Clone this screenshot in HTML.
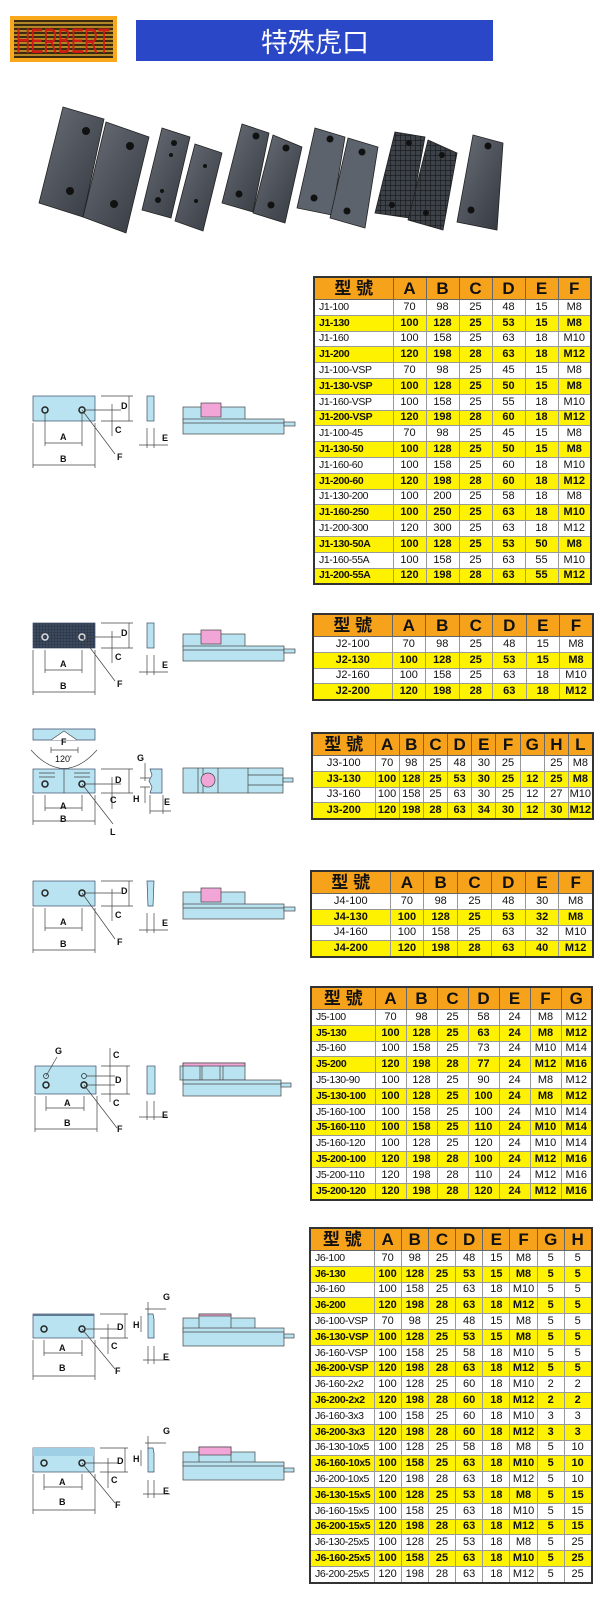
<!DOCTYPE html>
<html><head><meta charset="utf-8">
<style>
html,body{margin:0;padding:0;background:#fff;}
body{width:610px;height:1616px;position:relative;overflow:hidden;font-family:"Liberation Sans","Noto Sans CJK TC",sans-serif;}
.t{position:absolute;border-collapse:collapse;border:2px solid #333;font-size:11px;color:#111;table-layout:fixed;}
.t td{border:1px solid #999;height:14.8px;padding:0;text-align:center;line-height:13px;white-space:nowrap;overflow:hidden;}
.t tr.h td{background:#f7a21b;height:21px;line-height:20px;font-size:17px;font-weight:bold;border:1px solid #666;}
.t tr.y td{background:#fff200;font-weight:bold;}
.t td.m{text-align:left;padding-left:4px;letter-spacing:-0.4px;font-size:10.5px;}
svg text{font-family:"Liberation Sans",sans-serif;font-weight:bold;font-size:9px;fill:#111;}
</style></head><body>

<svg width="610" height="1616" style="position:absolute;left:0;top:0">
<defs>
<linearGradient id="st" x1="0" y1="0" x2="1" y2="1"><stop offset="0" stop-color="#6b7079"/><stop offset="1" stop-color="#33373e"/></linearGradient>
<pattern id="gr" width="5" height="5" patternUnits="userSpaceOnUse"><rect width="5" height="5" fill="#3d4148"/><path d="M0 0H5M0 0V5" stroke="#15171a" stroke-width="1.2"/></pattern>
<pattern id="gr2" width="3" height="3" patternUnits="userSpaceOnUse"><rect width="3" height="3" fill="#3c4a60"/><path d="M0 0H3M0 0V3" stroke="#222a38" stroke-width="0.8"/></pattern>
</defs>
<rect x="10" y="16" width="107" height="46" fill="#f8a81a"/>
<rect x="14" y="20" width="99" height="38" fill="#3a2a10"/>
<g stroke="#d9a52c" stroke-width="1.4">
<path d="M14 23H113M14 27H113M14 31H113M14 35H113M14 39H113M14 43H113M14 47H113M14 51H113M14 55H113"/>
</g>
<text x="63" y="53" text-anchor="middle" style="font-size:35px;font-weight:normal;fill:#d01a14;font-family:'Liberation Sans Narrow','Liberation Sans',sans-serif" textLength="94" lengthAdjust="spacingAndGlyphs">HERBERT</text>
<rect x="136" y="20" width="357" height="41" fill="#2a47c8"/>
<text x="315" y="52" text-anchor="middle" style="font-size:27px;font-weight:normal;fill:#fff;font-family:'Noto Sans CJK TC',sans-serif">特殊虎口</text>

<g stroke="#222" stroke-width="0.8">
<polygon points="63,107 104,119 83,217 39,203" fill="url(#st)"/>
<polygon points="106,122 149,137 126,233 83,217" fill="url(#st)"/>
<polygon points="162,128 190,137 171,218 142,210" fill="url(#st)"/>
<polygon points="195,144 222,153 203,231 175,221" fill="url(#st)"/>
<polygon points="242,124 269,133 253,212 222,203" fill="url(#st)"/>
<polygon points="273,135 302,147 285,223 253,213" fill="url(#st)"/>
<polygon points="315,128 345,137 332,215 297,208" fill="#5d636c"/>
<polygon points="348,138 378,147 365,228 330,218" fill="#5d636c"/>
<polygon points="395,132 425,137 410,218 375,213" fill="url(#gr)"/>
<polygon points="428,140 457,153 443,230 408,220" fill="url(#gr)"/>
<polygon points="473,135 503,143 497,230 457,222" fill="url(#st)"/>
</g>
<g fill="#111">
<circle cx="86" cy="131" r="4"/><circle cx="70" cy="191" r="4"/>
<circle cx="130" cy="146" r="4"/><circle cx="114" cy="204" r="4"/>
<circle cx="174" cy="143" r="3"/><circle cx="171" cy="155" r="2"/><circle cx="162" cy="191" r="2"/><circle cx="158" cy="200" r="3"/>
<circle cx="205" cy="166" r="2"/><circle cx="196" cy="201" r="2"/>
<circle cx="256" cy="136" r="3.5"/><circle cx="239" cy="194" r="3.5"/>
<circle cx="286" cy="148" r="3.5"/><circle cx="271" cy="205" r="3.5"/>
<circle cx="330" cy="139" r="3.5"/><circle cx="314" cy="198" r="3.5"/>
<circle cx="362" cy="152" r="3.5"/><circle cx="347" cy="211" r="3.5"/>
<circle cx="409" cy="143" r="3"/><circle cx="392" cy="205" r="3"/>
<circle cx="442" cy="155" r="3"/><circle cx="426" cy="213" r="3"/>
<circle cx="488" cy="146" r="3.5"/><circle cx="471" cy="210" r="3.5"/>
</g>

<g transform="translate(33,396)" stroke="#444" stroke-width="0.7" fill="none">
<rect x="0" y="0" width="62" height="25" fill="#b9e3f0" stroke="#3a4a6a"/>
<circle cx="12" cy="14" r="3" stroke="#222" stroke-width="1.5"/><circle cx="49" cy="14" r="3" stroke="#222" stroke-width="1.5"/>
<path d="M12 17V50M49 17V50M12 47H49M0 27V72M62 27V72M0 69H62M68 0H100M68 25H100M96 0V25M52 14H88M79 8V40M49 14L82 58M114 32V52M121 32V52M106 49H135"/>
<rect x="114" y="0" width="7" height="25" fill="#b9e3f0" stroke="#3a4a6a"/>
<rect x="150" y="11" width="62" height="14" fill="#b9e3f0"/>
<rect x="150" y="23" width="101" height="15" fill="#b9e3f0"/>
<path d="M150 27H251"/>
<rect x="168" y="7" width="20" height="14" fill="#f2a6d8"/>
<rect x="251" y="26" width="11" height="4" fill="#b9e3f0"/>
<text x="27" y="44" stroke="none">A</text><text x="27" y="66" stroke="none">B</text>
<text x="88" y="13" stroke="none">D</text><text x="82" y="37" stroke="none">C</text>
<text x="84" y="64" stroke="none">F</text><text x="129" y="45" stroke="none">E</text>
</g>
<g transform="translate(33,623)" stroke="#444" stroke-width="0.7" fill="none">
<rect x="0" y="0" width="62" height="25" fill="url(#gr2)" stroke="#3a4a6a"/>
<circle cx="12" cy="14" r="3" stroke="#ddd" stroke-width="1.5"/><circle cx="49" cy="14" r="3" stroke="#ddd" stroke-width="1.5"/>
<path d="M12 27V50M49 27V50M12 47H49M0 27V72M62 27V72M0 69H62M68 0H100M68 25H100M96 0V25M52 14H88M79 8V40M49 14L82 58M114 32V52M121 32V52M106 49H135"/>
<rect x="114" y="0" width="7" height="25" fill="#b9e3f0" stroke="#3a4a6a"/>
<rect x="150" y="11" width="62" height="14" fill="#b9e3f0"/>
<rect x="150" y="23" width="101" height="15" fill="#b9e3f0"/>
<path d="M150 27H251"/>
<rect x="168" y="7" width="20" height="14" fill="#f2a6d8"/>
<rect x="251" y="26" width="11" height="4" fill="#b9e3f0"/>
<text x="27" y="44" stroke="none">A</text><text x="27" y="66" stroke="none">B</text>
<text x="88" y="13" stroke="none">D</text><text x="82" y="37" stroke="none">C</text>
<text x="84" y="64" stroke="none">F</text><text x="129" y="45" stroke="none">E</text>
</g>
<g transform="translate(33,769)" stroke="#444" stroke-width="0.7" fill="none">
<path d="M0 -40H62V-29H0Z" fill="#b9e3f0" stroke="#3a4a6a"/>
<path d="M18 -29L31 -38L44 -29" fill="#fff"/>
<path d="M-2 -19Q31 18 64 -19"/>
<path d="M18 -19H45M18 -22V-16M45 -22V-16"/>
<text x="28" y="-24" stroke="none">F</text>
<text x="22" y="-7" stroke="none" style="font-weight:normal">120'</text>
<rect x="0" y="0" width="62" height="24" fill="#b9e3f0" stroke="#3a4a6a"/>
<path d="M31 0V24M6 4H22M6 8H22M41 4H57M41 8H57"/>
<circle cx="12" cy="15" r="3" stroke="#222" stroke-width="1.5"/><circle cx="49" cy="15" r="3" stroke="#222" stroke-width="1.5"/>
<path d="M12 26V42M49 26V42M12 39H49M0 26V56M62 26V56M0 52H62M68 0H100M68 24H100M96 0V24M52 15H88M79 8V40M49 15L80 55"/>
<path d="M117 0H129V24H117L119 18L116 12L119 6Z" fill="#b9e3f0" stroke="#3a4a6a"/>
<path d="M112 -6V12M107 9H117M107 18H117M112 18V34M117 26V45M130 26V45M117 42H138"/>
<text x="104" y="-8" stroke="none">G</text><text x="100" y="33" stroke="none">H</text>
<text x="131" y="36" stroke="none">E</text>
<rect x="150" y="-1" width="100" height="25" fill="#b9e3f0"/>
<path d="M165 -1V24M170 -1V24M185 -1V24M215 -1V24M215 6H250M215 16H250"/>
<circle cx="175" cy="11" r="7" fill="#f2a6d8"/>
<rect x="250" y="9" width="10" height="4" fill="#b9e3f0"/>
<text x="27" y="40" stroke="none">A</text><text x="27" y="53" stroke="none">B</text>
<text x="82" y="14" stroke="none">D</text><text x="77" y="34" stroke="none">C</text>
<text x="77" y="66" stroke="none">L</text>
</g>
<g transform="translate(33,881)" stroke="#444" stroke-width="0.7" fill="none">
<rect x="0" y="0" width="62" height="25" fill="#b9e3f0" stroke="#3a4a6a"/>
<circle cx="12" cy="12" r="3" stroke="#222" stroke-width="1.5"/><circle cx="49" cy="12" r="3" stroke="#222" stroke-width="1.5"/>
<path d="M12 27V50M49 27V50M12 47H49M0 27V72M62 27V72M0 69H62M68 0H100M68 25H100M96 0V25M52 12H88M79 8V40M49 12L82 58M114 32V52M121 32V52M106 49H135"/>
<path d="M114 0H121L120 25H115Z" fill="#b9e3f0" stroke="#3a4a6a"/>
<rect x="150" y="11" width="62" height="14" fill="#b9e3f0"/>
<rect x="150" y="23" width="101" height="15" fill="#b9e3f0"/>
<path d="M150 27H251"/>
<rect x="168" y="7" width="20" height="14" fill="#f2a6d8"/>
<rect x="251" y="26" width="11" height="4" fill="#b9e3f0"/>
<text x="27" y="44" stroke="none">A</text><text x="27" y="66" stroke="none">B</text>
<text x="88" y="13" stroke="none">D</text><text x="82" y="37" stroke="none">C</text>
<text x="84" y="64" stroke="none">F</text><text x="129" y="45" stroke="none">E</text>
</g>
<g transform="translate(35,1066)" stroke="#444" stroke-width="0.7" fill="none">
<rect x="0" y="0" width="61" height="28" fill="#b9e3f0" stroke="#3a4a6a"/>
<circle cx="11" cy="10" r="2.5" stroke="#222"/><circle cx="49" cy="10" r="2.5" stroke="#222"/>
<circle cx="11" cy="19" r="3" stroke="#222" stroke-width="1.5"/><circle cx="49" cy="19" r="3" stroke="#222" stroke-width="1.5"/>
<path d="M11 10L22 -9M11 30V45M49 30V45M11 42H49M0 30V66M62 30V66M0 63H62M66 0H95M66 28H95M92 0V28M52 10H80M52 19H80M75 -18V36M112 35V54M119 35V54M104 51H133"/>
<path d="M49 19L82 62"/>
<rect x="112" y="0" width="8" height="28" fill="#b9e3f0" stroke="#3a4a6a"/>
<rect x="145" y="0" width="10" height="14" fill="#b9e3f0"/>
<rect x="148" y="-3" width="62" height="17" fill="#b9e3f0"/>
<path d="M165 -1V14M167 -1V14M185 -1V14M188 -1V14"/>
<rect x="148" y="-3" width="62" height="3" fill="#f2a6d8"/>
<rect x="148" y="14" width="98" height="16" fill="#b9e3f0"/>
<path d="M148 18H246"/>
<rect x="246" y="17" width="10" height="4" fill="#b9e3f0"/>
<text x="20" y="-12" stroke="none">G</text>
<text x="29" y="40" stroke="none">A</text><text x="29" y="60" stroke="none">B</text>
<text x="80" y="17" stroke="none">D</text><text x="78" y="-8" stroke="none">C</text><text x="78" y="40" stroke="none">C</text>
<text x="82" y="66" stroke="none">F</text><text x="127" y="52" stroke="none">E</text>
</g>
<g transform="translate(33,1314)" stroke="#444" stroke-width="0.7" fill="none">
<rect x="0" y="0" width="61" height="24" fill="#b9e3f0" stroke="#3a4a6a"/>
<rect x="0" y="0" width="61" height="2" fill="#5d7a90" stroke="none"/>
<circle cx="11" cy="15" r="3" stroke="#222" stroke-width="1.5"/><circle cx="49" cy="15" r="3" stroke="#222" stroke-width="1.5"/>
<path d="M11 26V42M49 26V42M11 39H49M0 26V66M62 26V66M0 62H62M67 0H95M67 24H95M92 0V24M52 15H86M75 10V40M49 15L82 55M115 -12V2M112 -5H133M108 2V18"/>
<path d="M115 0H120L121 5V24H115Z" fill="#b9e3f0" stroke="#3a4a6a"/>
<path d="M115 32V50M121 32V50M110 46H137"/>
<rect x="150" y="4" width="72" height="14" fill="#b9e3f0"/>
<rect x="166" y="0" width="32" height="18" fill="#b9e3f0"/>
<rect x="166" y="0" width="32" height="2" fill="#f2a6d8"/>
<rect x="150" y="14" width="101" height="18" fill="#b9e3f0"/>
<path d="M150 18H251"/>
<rect x="251" y="20" width="10" height="4" fill="#b9e3f0"/>
<text x="130" y="-14" stroke="none">G</text><text x="100" y="14" stroke="none">H</text>
<text x="26" y="37" stroke="none">A</text><text x="26" y="57" stroke="none">B</text>
<text x="84" y="16" stroke="none">D</text><text x="78" y="35" stroke="none">C</text>
<text x="82" y="60" stroke="none">F</text><text x="130" y="46" stroke="none">E</text>
</g>
<g transform="translate(33,1448)" stroke="#444" stroke-width="0.7" fill="none">
<rect x="0" y="0" width="61" height="24" fill="#b9e3f0" stroke="#3a4a6a"/>
<rect x="0" y="0" width="61" height="8" fill="#9fcfe4" stroke="none"/>
<circle cx="11" cy="15" r="3" stroke="#222" stroke-width="1.5"/><circle cx="49" cy="15" r="3" stroke="#222" stroke-width="1.5"/>
<path d="M11 26V42M49 26V42M11 39H49M0 26V66M62 26V66M0 62H62M67 0H95M67 24H95M92 0V24M52 15H86M75 10V40M49 15L82 55M115 -12V2M112 -5H133M108 2V18"/>
<path d="M115 0H120L121 5V24H115Z" fill="#b9e3f0" stroke="#3a4a6a"/>
<path d="M115 32V50M121 32V50M110 46H137"/>
<rect x="150" y="4" width="72" height="14" fill="#b9e3f0"/>
<rect x="166" y="-1" width="32" height="19" fill="#b9e3f0"/>
<rect x="166" y="-1" width="32" height="8" fill="#f2a6d8"/>
<rect x="150" y="14" width="101" height="18" fill="#b9e3f0"/>
<path d="M150 18H251"/>
<rect x="251" y="20" width="10" height="4" fill="#b9e3f0"/>
<text x="130" y="-14" stroke="none">G</text><text x="100" y="14" stroke="none">H</text>
<text x="26" y="37" stroke="none">A</text><text x="26" y="57" stroke="none">B</text>
<text x="84" y="16" stroke="none">D</text><text x="78" y="35" stroke="none">C</text>
<text x="82" y="60" stroke="none">F</text><text x="130" y="46" stroke="none">E</text>
</g>
</svg>

<table class="t" style="left:313px;top:276px;width:279px">
<colgroup><col style="width:79px"><col span="6" style="width:33px"></colgroup>
<tr class="h"><td>型 號</td><td>A</td><td>B</td><td>C</td><td>D</td><td>E</td><td>F</td></tr>
<tr><td class="m">J1-100</td><td>70</td><td>98</td><td>25</td><td>48</td><td>15</td><td>M8</td></tr>
<tr class="y"><td class="m">J1-130</td><td>100</td><td>128</td><td>25</td><td>53</td><td>15</td><td>M8</td></tr>
<tr><td class="m">J1-160</td><td>100</td><td>158</td><td>25</td><td>63</td><td>18</td><td>M10</td></tr>
<tr class="y"><td class="m">J1-200</td><td>120</td><td>198</td><td>28</td><td>63</td><td>18</td><td>M12</td></tr>
<tr><td class="m">J1-100-VSP</td><td>70</td><td>98</td><td>25</td><td>45</td><td>15</td><td>M8</td></tr>
<tr class="y"><td class="m">J1-130-VSP</td><td>100</td><td>128</td><td>25</td><td>50</td><td>15</td><td>M8</td></tr>
<tr><td class="m">J1-160-VSP</td><td>100</td><td>158</td><td>25</td><td>55</td><td>18</td><td>M10</td></tr>
<tr class="y"><td class="m">J1-200-VSP</td><td>120</td><td>198</td><td>28</td><td>60</td><td>18</td><td>M12</td></tr>
<tr><td class="m">J1-100-45</td><td>70</td><td>98</td><td>25</td><td>45</td><td>15</td><td>M8</td></tr>
<tr class="y"><td class="m">J1-130-50</td><td>100</td><td>128</td><td>25</td><td>50</td><td>15</td><td>M8</td></tr>
<tr><td class="m">J1-160-60</td><td>100</td><td>158</td><td>25</td><td>60</td><td>18</td><td>M10</td></tr>
<tr class="y"><td class="m">J1-200-60</td><td>120</td><td>198</td><td>28</td><td>60</td><td>18</td><td>M12</td></tr>
<tr><td class="m">J1-130-200</td><td>100</td><td>200</td><td>25</td><td>58</td><td>18</td><td>M8</td></tr>
<tr class="y"><td class="m">J1-160-250</td><td>100</td><td>250</td><td>25</td><td>63</td><td>18</td><td>M10</td></tr>
<tr><td class="m">J1-200-300</td><td>120</td><td>300</td><td>25</td><td>63</td><td>18</td><td>M12</td></tr>
<tr class="y"><td class="m">J1-130-50A</td><td>100</td><td>128</td><td>25</td><td>53</td><td>50</td><td>M8</td></tr>
<tr><td class="m">J1-160-55A</td><td>100</td><td>158</td><td>25</td><td>63</td><td>55</td><td>M10</td></tr>
<tr class="y"><td class="m">J1-200-55A</td><td>120</td><td>198</td><td>28</td><td>63</td><td>55</td><td>M12</td></tr>
</table>

<table class="t" style="left:312px;top:613px;width:281px">
<colgroup><col style="width:79px"><col span="6" style="width:33.5px"></colgroup>
<tr class="h"><td>型 號</td><td>A</td><td>B</td><td>C</td><td>D</td><td>E</td><td>F</td></tr>
<tr><td>J2-100</td><td>70</td><td>98</td><td>25</td><td>48</td><td>15</td><td>M8</td></tr>
<tr class="y"><td>J2-130</td><td>100</td><td>128</td><td>25</td><td>53</td><td>15</td><td>M8</td></tr>
<tr><td>J2-160</td><td>100</td><td>158</td><td>25</td><td>63</td><td>18</td><td>M10</td></tr>
<tr class="y"><td>J2-200</td><td>120</td><td>198</td><td>28</td><td>63</td><td>18</td><td>M12</td></tr>
</table>

<table class="t" style="left:311px;top:732px;width:281px">
<colgroup><col style="width:63px"><col span="9" style="width:24.2px"></colgroup>
<tr class="h"><td>型 號</td><td>A</td><td>B</td><td>C</td><td>D</td><td>E</td><td>F</td><td>G</td><td>H</td><td>L</td></tr>
<tr><td>J3-100</td><td>70</td><td>98</td><td>25</td><td>48</td><td>30</td><td>25</td><td></td><td>25</td><td>M8</td></tr>
<tr class="y"><td>J3-130</td><td>100</td><td>128</td><td>25</td><td>53</td><td>30</td><td>25</td><td>12</td><td>25</td><td>M8</td></tr>
<tr><td>J3-160</td><td>100</td><td>158</td><td>25</td><td>63</td><td>30</td><td>25</td><td>12</td><td>27</td><td>M10</td></tr>
<tr class="y"><td>J3-200</td><td>120</td><td>198</td><td>28</td><td>63</td><td>34</td><td>30</td><td>12</td><td>30</td><td>M12</td></tr>
</table>

<table class="t" style="left:310px;top:870px;width:282px">
<colgroup><col style="width:79px"><col span="6" style="width:33.8px"></colgroup>
<tr class="h"><td>型 號</td><td>A</td><td>B</td><td>C</td><td>D</td><td>E</td><td>F</td></tr>
<tr><td>J4-100</td><td>70</td><td>98</td><td>25</td><td>48</td><td>30</td><td>M8</td></tr>
<tr class="y"><td>J4-130</td><td>100</td><td>128</td><td>25</td><td>53</td><td>32</td><td>M8</td></tr>
<tr><td>J4-160</td><td>100</td><td>158</td><td>25</td><td>63</td><td>32</td><td>M10</td></tr>
<tr class="y"><td>J4-200</td><td>120</td><td>198</td><td>28</td><td>63</td><td>40</td><td>M12</td></tr>
</table>

<table class="t" style="left:310px;top:986px;width:282px">
<colgroup><col style="width:64px"><col span="7" style="width:31px"></colgroup>
<tr class="h"><td>型 號</td><td>A</td><td>B</td><td>C</td><td>D</td><td>E</td><td>F</td><td>G</td></tr>
<tr><td class="m">J5-100</td><td>70</td><td>98</td><td>25</td><td>58</td><td>24</td><td>M8</td><td>M12</td></tr>
<tr class="y"><td class="m">J5-130</td><td>100</td><td>128</td><td>25</td><td>63</td><td>24</td><td>M8</td><td>M12</td></tr>
<tr><td class="m">J5-160</td><td>100</td><td>158</td><td>25</td><td>73</td><td>24</td><td>M10</td><td>M14</td></tr>
<tr class="y"><td class="m">J5-200</td><td>120</td><td>198</td><td>28</td><td>77</td><td>24</td><td>M12</td><td>M16</td></tr>
<tr><td class="m">J5-130-90</td><td>100</td><td>128</td><td>25</td><td>90</td><td>24</td><td>M8</td><td>M12</td></tr>
<tr class="y"><td class="m">J5-130-100</td><td>100</td><td>128</td><td>25</td><td>100</td><td>24</td><td>M8</td><td>M12</td></tr>
<tr><td class="m">J5-160-100</td><td>100</td><td>158</td><td>25</td><td>100</td><td>24</td><td>M10</td><td>M14</td></tr>
<tr class="y"><td class="m">J5-160-110</td><td>100</td><td>158</td><td>25</td><td>110</td><td>24</td><td>M10</td><td>M14</td></tr>
<tr><td class="m">J5-160-120</td><td>100</td><td>128</td><td>25</td><td>120</td><td>24</td><td>M10</td><td>M14</td></tr>
<tr class="y"><td class="m">J5-200-100</td><td>120</td><td>198</td><td>28</td><td>100</td><td>24</td><td>M12</td><td>M16</td></tr>
<tr><td class="m">J5-200-110</td><td>120</td><td>198</td><td>28</td><td>110</td><td>24</td><td>M12</td><td>M16</td></tr>
<tr class="y"><td class="m">J5-200-120</td><td>120</td><td>198</td><td>28</td><td>120</td><td>24</td><td>M12</td><td>M16</td></tr>
</table>

<table class="t" style="left:309px;top:1227px;width:282px">
<colgroup><col style="width:64px"><col span="8" style="width:27.2px"></colgroup>
<tr class="h"><td>型 號</td><td>A</td><td>B</td><td>C</td><td>D</td><td>E</td><td>F</td><td>G</td><td>H</td></tr>
<tr><td class="m">J6-100</td><td>70</td><td>98</td><td>25</td><td>48</td><td>15</td><td>M8</td><td>5</td><td>5</td></tr>
<tr class="y"><td class="m">J6-130</td><td>100</td><td>128</td><td>25</td><td>53</td><td>15</td><td>M8</td><td>5</td><td>5</td></tr>
<tr><td class="m">J6-160</td><td>100</td><td>158</td><td>25</td><td>63</td><td>18</td><td>M10</td><td>5</td><td>5</td></tr>
<tr class="y"><td class="m">J6-200</td><td>120</td><td>198</td><td>28</td><td>63</td><td>18</td><td>M12</td><td>5</td><td>5</td></tr>
<tr><td class="m">J6-100-VSP</td><td>70</td><td>98</td><td>25</td><td>48</td><td>15</td><td>M8</td><td>5</td><td>5</td></tr>
<tr class="y"><td class="m">J6-130-VSP</td><td>100</td><td>128</td><td>25</td><td>53</td><td>15</td><td>M8</td><td>5</td><td>5</td></tr>
<tr><td class="m">J6-160-VSP</td><td>100</td><td>158</td><td>25</td><td>58</td><td>18</td><td>M10</td><td>5</td><td>5</td></tr>
<tr class="y"><td class="m">J6-200-VSP</td><td>120</td><td>198</td><td>28</td><td>63</td><td>18</td><td>M12</td><td>5</td><td>5</td></tr>
<tr><td class="m">J6-160-2x2</td><td>100</td><td>128</td><td>25</td><td>60</td><td>18</td><td>M10</td><td>2</td><td>2</td></tr>
<tr class="y"><td class="m">J6-200-2x2</td><td>120</td><td>198</td><td>28</td><td>60</td><td>18</td><td>M12</td><td>2</td><td>2</td></tr>
<tr><td class="m">J6-160-3x3</td><td>100</td><td>158</td><td>25</td><td>60</td><td>18</td><td>M10</td><td>3</td><td>3</td></tr>
<tr class="y"><td class="m">J6-200-3x3</td><td>120</td><td>198</td><td>28</td><td>60</td><td>18</td><td>M12</td><td>3</td><td>3</td></tr>
<tr><td class="m">J6-130-10x5</td><td>100</td><td>128</td><td>25</td><td>58</td><td>18</td><td>M8</td><td>5</td><td>10</td></tr>
<tr class="y"><td class="m">J6-160-10x5</td><td>100</td><td>158</td><td>25</td><td>63</td><td>18</td><td>M10</td><td>5</td><td>10</td></tr>
<tr><td class="m">J6-200-10x5</td><td>120</td><td>198</td><td>28</td><td>63</td><td>18</td><td>M12</td><td>5</td><td>10</td></tr>
<tr class="y"><td class="m">J6-130-15x5</td><td>100</td><td>128</td><td>25</td><td>53</td><td>18</td><td>M8</td><td>5</td><td>15</td></tr>
<tr><td class="m">J6-160-15x5</td><td>100</td><td>158</td><td>25</td><td>63</td><td>18</td><td>M10</td><td>5</td><td>15</td></tr>
<tr class="y"><td class="m">J6-200-15x5</td><td>120</td><td>198</td><td>28</td><td>63</td><td>18</td><td>M12</td><td>5</td><td>15</td></tr>
<tr><td class="m">J6-130-25x5</td><td>100</td><td>128</td><td>25</td><td>53</td><td>18</td><td>M8</td><td>5</td><td>25</td></tr>
<tr class="y"><td class="m">J6-160-25x5</td><td>100</td><td>158</td><td>25</td><td>63</td><td>18</td><td>M10</td><td>5</td><td>25</td></tr>
<tr><td class="m">J6-200-25x5</td><td>120</td><td>198</td><td>28</td><td>63</td><td>18</td><td>M12</td><td>5</td><td>25</td></tr>
</table>

</body></html>
